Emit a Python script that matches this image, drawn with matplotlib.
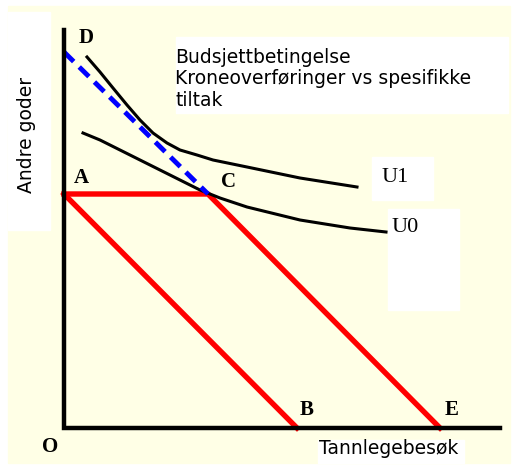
import matplotlib.pyplot as plt
from matplotlib.patches import Rectangle

# Coordinates in "diagram units": origin at O, x = tannlegebesøk, y = andre goder
budget_low_x = [0, 233]          # A -> B
budget_low_y = [234, 0]
budget_kink_x = [0, 144, 376]    # A -> C -> E
budget_kink_y = [234, 234, 0]
cash_x = [0, 144]                # D -> C (kroneoverføring)
cash_y = [376, 234]

u1_x = [23, 36, 49, 63, 76, 89, 103, 116, 133, 149, 183, 236, 293]
u1_y = [371, 356, 340, 323, 308, 295, 285, 278, 273, 268, 261, 250, 241]
u0_x = [19, 36, 56, 76, 96, 116, 136, 156, 183, 236, 286, 322]
u0_y = [295, 288, 278, 268, 258, 248, 238, 230, 221, 208, 200, 196]

point_labels = ['D', 'A', 'C', 'B', 'E', 'O']
point_x = [22, 17, 164, 243, 388, -14]
point_y = [390, 250, 246, 18, 18, -19]

fig = plt.figure(figsize=(5.17, 4.67), dpi=100)
ax = fig.add_axes([0, 0, 1, 1])
# full figure mapped so that O sits at pixel (64, 428)
ax.set_xlim(-64, 517 - 64)
ax.set_ylim(428 - 467, 428)
ax.axis('off')

yellow = '#FFFFE6'
# background panels
ax.add_patch(Rectangle((-56, -35), 502, 457, color=yellow, zorder=0))
ax.add_patch(Rectangle((-56, 198), 42, 218, color='white', zorder=0.5))
ax.add_patch(Rectangle((112, 315), 332, 76, color='white', zorder=0.5))
ax.add_patch(Rectangle((308, 228), 61, 43, color='white', zorder=0.5))
ax.add_patch(Rectangle((324, 118), 71, 101, color='white', zorder=0.5))
ax.add_patch(Rectangle((254, -35), 146, 23, color='white', zorder=0.5))

# axes
ax.plot([0, 0, 436], [398, 0, 0], color='black', lw=3.2,
        solid_joinstyle='miter', zorder=3)

ax.plot(budget_low_x, budget_low_y, color='#FF0000', lw=3.9, zorder=2)
ax.plot(budget_kink_x, budget_kink_y, color='#FF0000', lw=3.9, zorder=2)
ax.plot(cash_x, cash_y, color='#0000FF', lw=3.5, dashes=(2.8, 1.6), zorder=2.5)
ax.plot(u1_x, u1_y, color='black', lw=2.2, zorder=2.2, solid_joinstyle='round')
ax.plot(u0_x, u0_y, color='black', lw=2.2, zorder=2.2, solid_joinstyle='round')

for lab, x, y in zip(point_labels, point_x, point_y):
    ax.text(x, y, lab, fontsize=15, fontweight='bold', family='Liberation Serif',
            ha='center', va='center', zorder=4)

ax.text(331, 250, 'U1', fontsize=16, family='Liberation Serif',
        ha='center', va='center', zorder=4)
ax.text(341, 200, 'U0', fontsize=16, family='Liberation Serif',
        ha='center', va='center', zorder=4)

ax.text(111, 349, 'Budsjettbetingelse\nKroneoverføringer vs spesifikke\ntiltak',
        fontsize=13.5, family='DejaVu Sans', ha='left', va='center',
        linespacing=1.17, zorder=4)
ax.text(-37, 293, 'Andre goder', fontsize=13.5, rotation=90,
        ha='center', va='center', zorder=4)
ax.text(255, -20, 'Tannlegebesøk', fontsize=13.5, ha='left', va='center', zorder=4)

fig.savefig('out.png', dpi=100)
